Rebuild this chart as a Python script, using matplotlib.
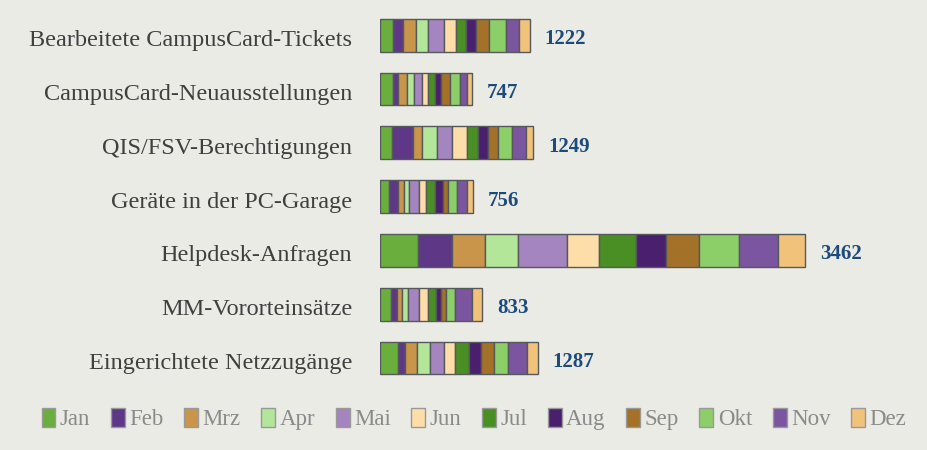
import matplotlib.pyplot as plt
import numpy as np
from matplotlib.patches import Patch
from matplotlib.transforms import ScaledTranslation

categories = ["Bearbeitete CampusCard-Tickets", "CampusCard-Neuausstellungen",
              "QIS/FSV-Berechtigungen", "Geräte in der PC-Garage",
              "Helpdesk-Anfragen", "MM-Vororteinsätze", "Eingerichtete Netzzugänge"]
months = ["Jan", "Feb", "Mrz", "Apr", "Mai", "Jun", "Jul", "Aug", "Sep", "Okt", "Nov", "Dez"]

# monthly counts per category (Jan..Dez)
tickets = [108, 76, 108, 100, 130, 95, 86, 81, 103, 140, 103, 92]
neuausstellungen = [107, 40, 73, 60, 62, 49, 60, 49, 68, 81, 60, 38]
qis_fsv = [99, 168, 79, 122, 122, 117, 95, 81, 81, 114, 109, 62]
pc_garage = [75, 75, 49, 38, 78, 62, 70, 65, 41, 78, 76, 49]
helpdesk = [312, 272, 272, 272, 398, 261, 296, 247, 272, 322, 321, 217]
vororteinsaetze = [89, 51, 38, 49, 92, 73, 68, 38, 41, 71, 136, 87]
netzzugaenge = [149, 52, 103, 103, 114, 90, 114, 95, 111, 114, 155, 87]

colors = ["#6AAF3D", "#5E3787", "#C9954A", "#B4E69A", "#A585BF", "#FDDDA8",
          "#4A8F24", "#4A1F6E", "#A37128", "#8CCF68", "#7B55A0", "#F1C27A"]

data = np.array([tickets, neuausstellungen, qis_fsv, pc_garage,
                 helpdesk, vororteinsaetze, netzzugaenge])
totals = data.sum(axis=1)

bg = "#EBEBE6"
plt.rcParams['font.family'] = ['Liberation Serif', 'DejaVu Serif']

fig = plt.figure(figsize=(9.28, 4.5), dpi=100, facecolor=bg)
ax = fig.add_axes([380 / 928, 0.1447, 520 / 928, 0.837])
ax.set_facecolor(bg)

y = np.arange(len(categories))
left = np.zeros(len(categories))
for m in range(len(months)):
    ax.barh(y, data[:, m], left=left, height=0.61, color=colors[m],
            edgecolor="#55595c", linewidth=1.0)
    left += data[:, m]

# texts sit a few pixels below the bar centre in the original
shift_num = ScaledTranslation(0, -0.04, fig.dpi_scale_trans)
for i, t in enumerate(totals):
    ax.text(t + 120, y[i], str(t), va="center", ha="left", fontsize=15,
            fontweight="bold", color="#1C4A7A",
            transform=ax.transData + shift_num)

ax.set_xlim(0, 520 * 3462 / 425)
ax.set_ylim(len(categories) - 0.5, -0.5)
ax.set_yticks(y)
ax.set_yticklabels(categories, fontsize=17.5, color="#3F3F3F")
ax.tick_params(axis="y", length=0, pad=20)
shift_lab = ScaledTranslation(0, -0.03, fig.dpi_scale_trans)
for lab in ax.get_yticklabels():
    lab.set_transform(lab.get_transform() + shift_lab)
ax.set_xticks([])
for s in ax.spines.values():
    s.set_visible(False)

handles = [Patch(facecolor=c, edgecolor="#999999", linewidth=1.0) for c in colors]
leg = fig.legend(handles, months, loc="center",
                 bbox_to_anchor=(0.5 + 10 / 928, 1 - 419 / 450),
                 ncol=12, frameon=False, fontsize=16.5, handlelength=0.6,
                 handleheight=0.95, handletextpad=0.2, columnspacing=0.9)
for txt in leg.get_texts():
    txt.set_color("#8A8A8A")

fig.savefig("out.png", dpi=100, facecolor=bg)
